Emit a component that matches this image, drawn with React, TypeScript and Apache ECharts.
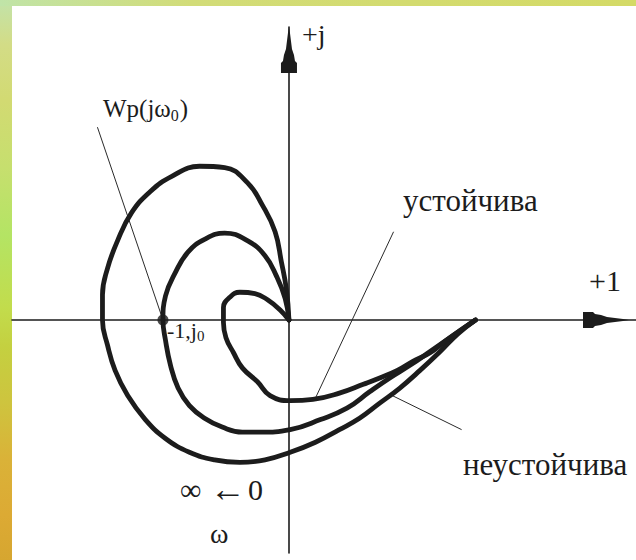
import React, { useEffect, useRef } from "react";
import * as echarts from "echarts";

type Pt = [number, number];

// Frequency-response hodographs W(jω), ω running from 0 (right end) to ∞ (origin).
// Coordinates are in units of the real axis (critical point at -1).
const unstableCurve: Pt[] = [
  [1.48, 0], [1.34, -0.11], [1.2, -0.25], [1.04, -0.4], [0.88, -0.54], [0.72, -0.66],
  [0.56, -0.78], [0.4, -0.87], [0.21, -0.97], [0.01, -1.05], [-0.19, -1.11], [-0.39, -1.13],
  [-0.59, -1.11], [-0.79, -1.05], [-0.98, -0.94], [-1.14, -0.79], [-1.28, -0.6], [-1.38, -0.4],
  [-1.44, -0.2], [-1.48, 0], [-1.48, 0.2], [-1.44, 0.41], [-1.36, 0.63], [-1.25, 0.85],
  [-1.1, 1.02], [-0.93, 1.14], [-0.71, 1.22], [-0.51, 1.21], [-0.33, 1.09], [-0.21, 0.91],
  [-0.11, 0.7], [-0.06, 0.46], [-0.02, 0.24], [0, 0],
];

const boundaryCurve: Pt[] = [
  [1.48, 0], [1.32, -0.11], [1.12, -0.25], [0.96, -0.36], [0.8, -0.46], [0.64, -0.57],
  [0.46, -0.7], [0.25, -0.79], [0.01, -0.87], [-0.23, -0.89], [-0.37, -0.89], [-0.53, -0.85],
  [-0.67, -0.78], [-0.79, -0.68], [-0.88, -0.54], [-0.94, -0.36], [-0.98, -0.16], [-1.0, 0],
  [-0.98, 0.19], [-0.9, 0.38], [-0.8, 0.54], [-0.67, 0.64], [-0.51, 0.69], [-0.33, 0.63],
  [-0.19, 0.51], [-0.1, 0.35], [-0.03, 0.17], [0, 0],
];

const stableCurve: Pt[] = [
  [1.48, 0], [1.25, -0.16], [1.12, -0.26], [0.98, -0.33], [0.86, -0.4], [0.72, -0.46],
  [0.59, -0.51], [0.4, -0.58], [0.19, -0.63], [0.01, -0.64], [-0.15, -0.6], [-0.25, -0.49],
  [-0.37, -0.38], [-0.44, -0.26], [-0.5, -0.14], [-0.52, -0.02], [-0.52, 0.1], [-0.47, 0.18],
  [-0.39, 0.22], [-0.27, 0.21], [-0.17, 0.16], [-0.07, 0.08], [0, 0],
];

const criticalPoint: Pt[] = [[-1, 0]];

// Pointer lines from the captions to the curves
const leaderWp: Pt[] = [[-1.52, 1.53], [-1.0, 0]];
const leaderStable: Pt[] = [[0.83, 0.7], [0.21, -0.62]];
const leaderUnstable: Pt[] = [[0.82, -0.6], [1.37, -0.87]];

// Visible extent of the complex plane
const X_MIN = -2.198;
const X_MAX = 2.754;
const Y_MIN = -1.849;
const Y_MAX = 2.325;

const FONT_FAMILY = "'Liberation Serif', 'Times New Roman', 'DejaVu Serif', serif";
const INK = "#1c1c1c";

// Tapered arrow head, drawn pointing up and rotated by the axis
const ARROW =
  "path://M8 0 L9 6 L10 14 L11 22 L13 28 L14 34 L16 36 L16 46 L0 46 L0 36 L2 34 L3 28 L5 22 L6 14 L7 6 Z";

function measure(text: string, size: number): number {
  const c = document.createElement("canvas").getContext("2d");
  if (!c) return text.length * size * 0.5;
  c.font = `${size}px ${FONT_FAMILY}`;
  return c.measureText(text).width;
}

function label(text: string, x: number, baseline: number, size: number) {
  return {
    type: "text",
    x,
    y: baseline - 0.34 * size,
    silent: true,
    style: {
      text,
      fill: INK,
      fontSize: size,
      fontFamily: FONT_FAMILY,
      textAlign: "left",
      textVerticalAlign: "middle",
      align: "left",
      verticalAlign: "middle",
    },
  };
}

export default function App() {
  const ref = useRef<HTMLDivElement>(null);

  useEffect(() => {
    if (!ref.current) return;
    const chart = echarts.init(ref.current, null, { renderer: "svg" });

    const curveStyle = { color: INK, width: 4.8, cap: "round", join: "round" };
    const thin = { color: "#2a2a2a", width: 1 };

    const wpX = 103;
    const wpMain = "Wp(jω";
    const wpSubX = wpX + measure(wpMain, 25);
    const wpCloseX = wpSubX + measure("0", 16) + 1;

    const mX = 167;
    const mMain = "-1,j";
    const mSubX = mX + measure(mMain, 22);

    chart.setOption({
      animation: false,
      backgroundColor: "transparent",
      grid: { left: 12, right: 0, top: 27, bottom: 7 },
      xAxis: {
        type: "value",
        min: X_MIN,
        max: X_MAX,
        axisLine: {
          show: true,
          onZero: true,
          symbol: ["none", ARROW],
          symbolSize: [16, 46],
          symbolOffset: [0, -30],
          lineStyle: { color: INK, width: 1.6 },
        },
        axisTick: { show: false },
        axisLabel: { show: false },
        splitLine: { show: false },
      },
      yAxis: {
        type: "value",
        min: Y_MIN,
        max: Y_MAX,
        axisLine: {
          show: true,
          onZero: true,
          symbol: ["none", ARROW],
          symbolSize: [16, 46],
          symbolOffset: [0, -23],
          lineStyle: { color: INK, width: 1.6 },
        },
        axisTick: { show: false },
        axisLabel: { show: false },
        splitLine: { show: false },
      },
      series: [
        { type: "line", data: leaderWp, symbol: "none", silent: true, lineStyle: thin, z: 2 },
        { type: "line", data: leaderStable, symbol: "none", silent: true, lineStyle: thin, z: 2 },
        { type: "line", data: leaderUnstable, symbol: "none", silent: true, lineStyle: thin, z: 2 },
        { type: "line", data: unstableCurve, smooth: 0.45, symbol: "none", silent: true, lineStyle: curveStyle, z: 3 },
        { type: "line", data: boundaryCurve, smooth: 0.45, symbol: "none", silent: true, lineStyle: curveStyle, z: 3 },
        { type: "line", data: stableCurve, smooth: 0.45, symbol: "none", silent: true, lineStyle: curveStyle, z: 3 },
        {
          type: "scatter",
          data: criticalPoint,
          symbolSize: 11,
          silent: true,
          itemStyle: { color: INK },
          z: 4,
        },
      ],
      graphic: [
        label("+j", 302, 44, 28),
        label(wpMain, wpX, 117, 25),
        label("0", wpSubX, 121, 16),
        label(")", wpCloseX, 117, 25),
        label("устойчива", 403, 211, 31),
        label("+1", 589, 291, 30),
        label(mMain, mX, 338, 22),
        label("0", mSubX, 341, 15),
        label("неустойчива", 463, 475, 31),
        label("∞", 180, 500, 30),
        label("←", 210, 501, 36),
        label("0", 248, 500, 30),
        label("ω", 210, 543, 28),
      ],
    });

    return () => chart.dispose();
  }, []);

  return (
    <div style={{ position: "absolute", left: 0, top: 0, width: 636, height: 560, overflow: "hidden" }}>
      <div
        style={{
          position: "absolute",
          left: 0,
          top: 0,
          width: 12,
          height: 560,
          background:
            "linear-gradient(to bottom, #c2e3aa 0%, #d3dc86 8%, #d2da72 18%, #c6df6e 30%, #b4e464 42%, #c2dc4c 55%, #c4d040 62%, #cec43e 72%, #dab238 82%, #dcaa34 92%, #d6a630 100%)",
        }}
      />
      <div
        style={{
          position: "absolute",
          left: 0,
          top: 0,
          width: 636,
          height: 6,
          background: "linear-gradient(to right, #c0e4a8 0%, #d2dc78 30%, #d4da66 100%)",
        }}
      />
      <div style={{ position: "absolute", left: 12, top: 6, width: 624, height: 554, background: "#ffffff" }} />
      <div ref={ref} style={{ position: "absolute", left: 0, top: 0, width: 636, height: 560 }} />
    </div>
  );
}
